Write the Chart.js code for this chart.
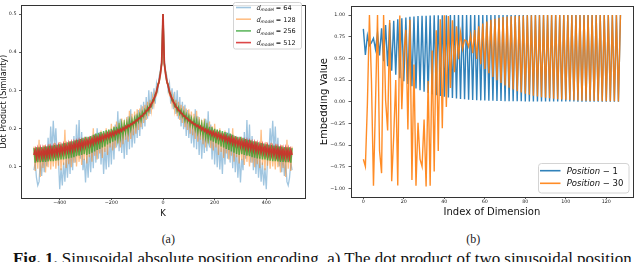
<!DOCTYPE html>
<html>
<head>
<meta charset="utf-8">
<script src="https://cdn.jsdelivr.net/npm/chart.js@4.4.0/dist/chart.umd.min.js"></script>
<style>
  html, body { margin: 0; padding: 0; background: #fff; }
  body { width: 640px; height: 262px; position: relative; overflow: hidden; }
  canvas { position: absolute; top: 0; }
  #chartA { left: 0; }
  #chartB { left: 320px; }
  .sub { position: absolute; font-family: "Liberation Serif", serif; font-size: 12px; line-height: 1; color: #222; top: 233px; }
  #caption { position: absolute; left: 13px; top: 252px; white-space: nowrap; font-family: "Liberation Serif", serif; font-size: 12px; line-height: 1; color: #111; }
</style>
</head>
<body>
<canvas id="chartA" width="320" height="225"></canvas>
<canvas id="chartB" width="320" height="225"></canvas>
<div class="sub" id="subA">(a)</div>
<div class="sub" id="subB">(b)</div>
<div id="caption"><span id="capText"><b>Fig. 1.</b> Sinusoidal absolute position encoding. a) The dot product of two sinusoidal position</span></div>
<script>
// ---- data (a): dot product vs distance K, right half (K >= 0), the plot is symmetric
const kHalf = [0,5,10,15,20,25,30,35,40,45,
  50,55,60,65,70,75,80,85,90,95,
  100,105,110,115,120,125,130,135,140,145,
  150,155,160,165,170,175,180,185,190,195,
  200,205,210,215,220,225,230,235,240,245,
  250,255,260,265,270,275,280,285,290,295,
  300,305,310,315,320,325,330,335,340,345,
  350,355,360,365,370,375,380,385,390,395,
  400,405,410,415,420,425,430,435,440,445,
  450,455,460,465,470,475,480,485,490,495,
  500];

const dot64 = [.500,.380,.352,.336,.300,.318,.265,.305,.250,.296,
  .238,.300,.225,.282,.205,.270,.198,.262,.180,.248,
  .175,.236,.160,.210,.150,.250,.145,.232,.130,.205,
  .120,.188,.135,.225,.140,.245,.150,.210,.118,.190,
  .105,.176,.098,.170,.092,.150,.080,.168,.105,.190,
  .120,.200,.110,.185,.095,.165,.085,.150,.070,.130,
  .058,.120,.090,.190,.120,.222,.130,.210,.110,.180,
  .090,.160,.080,.145,.070,.125,.060,.110,.050,.095,
  .040,.120,.130,.200,.150,.220,.140,.205,.120,.175,
  .100,.150,.085,.130,.075,.115,.060,.050,.070,.110,
  .090];

const dot128 = [.500,.368,.347,.318,.318,.288,.295,.262,.283,.246,
  .275,.232,.270,.222,.262,.214,.258,.203,.252,.196,
  .250,.186,.244,.182,.238,.172,.246,.165,.230,.170,
  .222,.158,.226,.150,.214,.160,.218,.148,.206,.142,
  .212,.150,.196,.130,.200,.138,.188,.122,.194,.134,
  .180,.118,.186,.128,.200,.112,.178,.124,.170,.108,
  .176,.116,.162,.104,.172,.112,.160,.100,.170,.110,
  .156,.098,.166,.106,.152,.096,.196,.104,.150,.090,
  .164,.102,.148,.094,.162,.100,.146,.092,.158,.098,
  .150,.084,.156,.096,.148,.072,.170,.094,.150,.088,
  .152];

const dot256 = [.500,.370,.345,.322,.314,.293,.289,.273,.274,.258,
  .262,.246,.255,.238,.247,.232,.242,.222,.236,.219,
  .232,.210,.226,.206,.222,.199,.220,.192,.214,.190,
  .212,.183,.209,.178,.206,.172,.204,.168,.203,.165,
  .199,.161,.197,.158,.195,.152,.193,.150,.190,.146,
  .188,.143,.186,.139,.183,.136,.180,.133,.178,.130,
  .178,.132,.175,.130,.172,.128,.170,.127,.168,.124,
  .166,.123,.165,.121,.163,.120,.161,.118,.160,.118,
  .158,.116,.157,.115,.156,.114,.155,.114,.154,.113,
  .153,.112,.152,.112,.151,.111,.150,.111,.150,.110,
  .148];

const dot512 = [.500,.372,.343,.324,.311,.297,.285,.278,.269,.265,
  .256,.254,.247,.246,.240,.238,.232,.232,.226,.226,
  .220,.221,.215,.216,.210,.211,.205,.208,.201,.205,
  .196,.201,.193,.198,.189,.195,.186,.192,.182,.190,
  .180,.188,.176,.186,.174,.183,.171,.181,.168,.179,
  .165,.176,.163,.175,.160,.173,.158,.171,.156,.169,
  .153,.168,.151,.166,.149,.165,.147,.163,.146,.161,
  .143,.160,.141,.158,.140,.156,.137,.155,.136,.153,
  .134,.152,.133,.150,.131,.149,.130,.148,.128,.147,
  .127,.146,.126,.145,.125,.145,.124,.144,.123,.143,
  .130];

const dModels = ['64', '128', '256', '512'];
const xTicksA = [-400, -200, 0, 200, 400];
const yTicksA = [0.1, 0.2, 0.3, 0.4, 0.5];

// ---- data (b): embedding values over the 128 dimensions
const pos1 = [.841,.540,.762,.648,.682,.732,.605,.796,.533,.846,.468,.884,.409,.912,.357,.934,
  .311,.950,.270,.963,.235,.972,.204,.979,.177,.984,.153,.988,.133,.991,.115,.993,
  .100,.995,.087,.996,.075,.997,.065,.998,.056,.998,.049,.999,.042,.999,.037,.999,
  .032,.999,.027,1,.024,1,.021,1,.018,1,.015,1,.013,1,.012,1,
  .010,1,.009,1,.007,1,.006,1,.006,1,.005,1,.004,1,.004,1,
  .003,1,.003,1,.002,1,.002,1,.002,1,.002,1,.001,1,.001,1,
  .001,1,.001,1,.001,1,.001,1,.001,1,0,1,0,1,0,1,
  0,1,0,1,0,1,0,1,0,1,0,1,0,1,0,1];

const pos30 = [-.664,-.748,-.020,1,.242,-.970,-.018,1,-.565,-.825,1,.015,-.331,.944,-.919,-.395,
  .251,-.968,.996,-.087,.560,.829,-.322,.947,-.903,.430,-.970,-.244,-.664,-.748,-.206,-.978,
  .239,-.971,.590,-.807,.823,-.568,.951,-.307,.998,-.060,.988,.158,.940,.340,.871,.491,
  .794,.608,.713,.701,.635,.773,.561,.828,.493,.870,.432,.902,.377,.926,.329,.944,
  .286,.958,.249,.969,.216,.976,.187,.982,.162,.987,.141,.990,.122,.993,.106,.994,
  .092,.996,.079,.997,.069,.998,.060,.998,.052,.999,.045,.999,.039,.999,.033,.999,
  .029,1,.025,1,.022,1,.019,1,.016,1,.014,1,.012,1,.011,1,
  .009,1,.008,1,.007,1,.006,1,.005,1,.004,1,.004,1,.003,1];

const positions = ['1', '30'];
const xTicksB = [0, 20, 40, 60, 80, 100, 120];
const yTicksB = [-1, -0.75, -0.5, -0.25, 0, 0.25, 0.5, 0.75, 1];

// ---- helpers
const FONT = '"DejaVu Sans", sans-serif';
const minus = s => String(s).replace('-', '\u2212');

// full K axis from the right half (distance -K gives the same product)
const kFull = kHalf.slice(1).reverse().map(k => -k).concat(kHalf);
const mirror = half => half.slice(1).reverse().concat(half);
const toXY = (xs, ys) => ys.map((y, i) => ({ x: xs[i], y: y }));

const frame = {
  id: 'frame',
  afterDatasetsDraw(chart) {
    const { left, top, right, bottom } = chart.chartArea;
    const ctx = chart.ctx;
    ctx.save();
    ctx.strokeStyle = '#333';
    ctx.lineWidth = 1;
    const l = Math.round(left) + 0.5, t = Math.round(top) + 0.5;
    ctx.strokeRect(l, t, Math.round(right) - Math.round(left), Math.round(bottom) - Math.round(top));
    ctx.restore();
  }
};

function box(ctx, x, y, w, h, r) {
  ctx.beginPath();
  ctx.roundRect(x, y, w, h, r);
  ctx.fillStyle = 'rgba(255,255,255,0.85)';
  ctx.fill();
  ctx.strokeStyle = '#d4d4d4';
  ctx.lineWidth = 1;
  ctx.stroke();
}

function scaleX(ticks, min, max, fmt, titleText, titleSize, titleBottom, height) {
  return {
    type: 'linear', min: min, max: max,
    afterBuildTicks: s => { s.ticks = ticks.map(v => ({ value: v })); },
    afterFit: s => { s.height = height; },
    ticks: { font: { family: FONT, size: 4.8 }, color: '#222', padding: 0, maxRotation: 0, autoSkip: false, callback: fmt },
    grid: { drawOnChartArea: false, tickLength: 2, color: '#333', lineWidth: 0.8 },
    border: { display: false },
    title: { display: true, text: titleText, color: '#111', font: { family: FONT, size: titleSize, lineHeight: 1 }, padding: { top: 0, bottom: titleBottom } }
  };
}

function scaleY(ticks, min, max, fmt, titleText, titleSize, width, pad) {
  return {
    type: 'linear', min: min, max: max,
    afterBuildTicks: s => { s.ticks = ticks.map(v => ({ value: v })); },
    afterFit: s => { s.width = width; },
    ticks: { font: { family: FONT, size: 4.8 }, color: '#222', padding: pad, autoSkip: false, callback: fmt },
    grid: { drawOnChartArea: false, tickLength: 2, color: '#333', lineWidth: 0.8 },
    border: { display: false },
    title: { display: true, text: titleText, color: '#111', font: { family: FONT, size: titleSize, lineHeight: 0.9 }, padding: { top: 0, bottom: 0 } }
  };
}

// ---- chart (a)
const styleA = [
  { color: 'rgba(31,119,180,0.42)', width: 1.3 },
  { color: 'rgba(255,127,14,0.5)', width: 1.3 },
  { color: 'rgba(44,160,44,0.75)', width: 1.5 },
  { color: 'rgba(214,39,40,0.85)', width: 1.8 }
];
const seriesA = [dot64, dot128, dot256, dot512];

const legendA = {
  id: 'legendA',
  afterDraw(chart) {
    const ctx = chart.ctx;
    ctx.save();
    box(ctx, 233.5, 2.5, 68, 46.5, 2);
    ctx.textBaseline = 'alphabetic';
    dModels.forEach((d, i) => {
      const y = 7.5 + i * 11.7;
      ctx.strokeStyle = styleA[i].color;
      ctx.lineWidth = 1.6;
      ctx.beginPath();
      ctx.moveTo(236, y);
      ctx.lineTo(251, y);
      ctx.stroke();
      ctx.fillStyle = '#111';
      ctx.font = 'italic 6.5px ' + FONT;
      ctx.fillText('d', 256.5, y + 2.3);
      ctx.font = 'italic 4.3px ' + FONT;
      ctx.fillText('model', 260.6, y + 3.6);
      ctx.font = '6.5px ' + FONT;
      ctx.fillText('= ' + d, 275.8, y + 2.3);
    });
    ctx.restore();
  }
};

new Chart(document.getElementById('chartA'), {
  type: 'line',
  data: {
    datasets: seriesA.map((vals, i) => ({
      label: 'd_model = ' + dModels[i],
      data: toXY(kFull, mirror(vals)),
      borderColor: styleA[i].color,
      borderWidth: styleA[i].width,
      pointRadius: 0,
      tension: 0,
      fill: false,
      order: 3 - i
    }))
  },
  options: {
    responsive: false,
    animation: false,
    events: [],
    layout: { padding: { left: 0, top: 1, right: 15, bottom: 0 } },
    plugins: { legend: { display: false }, tooltip: { enabled: false } },
    scales: {
      x: scaleX(xTicksA, -550, 550, v => minus(v), 'K', 8.5, 6.5, 27),
      y: scaleY(yTicksA, 0.017, 0.523, v => v.toFixed(1), 'Dot Product (Similarity)', 8, 21, 2.5)
    }
  },
  plugins: [frame, legendA]
});

// ---- chart (b)
const styleB = [
  { color: 'rgba(31,119,180,0.92)', width: 1.4 },
  { color: 'rgba(255,127,14,0.9)', width: 1.4 }
];
const seriesB = [pos1, pos30];

const legendB = {
  id: 'legendB',
  afterDraw(chart) {
    const ctx = chart.ctx;
    ctx.save();
    box(ctx, 218.5, 163.5, 90.5, 29.5, 3);
    ctx.textBaseline = 'alphabetic';
    positions.forEach((p, i) => {
      const y = 170.7 + i * 12.6;
      ctx.strokeStyle = styleB[i].color;
      ctx.lineWidth = 1.6;
      ctx.beginPath();
      ctx.moveTo(220, y);
      ctx.lineTo(240.5, y);
      ctx.stroke();
      ctx.fillStyle = '#111';
      ctx.font = 'italic 8.5px ' + FONT;
      ctx.fillText('Position', 246.7, y + 3);
      const w = ctx.measureText('Position').width;
      ctx.font = '8.5px ' + FONT;
      ctx.fillText(' \u2212 ' + p, 246.7 + w, y + 3);
    });
    ctx.restore();
  }
};

new Chart(document.getElementById('chartB'), {
  type: 'line',
  data: {
    datasets: seriesB.map((vals, i) => ({
      label: 'Position - ' + positions[i],
      data: vals.map((v, d) => ({ x: d, y: v })),
      borderColor: styleB[i].color,
      borderWidth: styleB[i].width,
      pointRadius: 0,
      tension: 0,
      fill: false,
      order: 1 - i
    }))
  },
  options: {
    responsive: false,
    animation: false,
    events: [],
    layout: { padding: { left: 0, top: 1, right: 6.7, bottom: 0 } },
    plugins: { legend: { display: false }, tooltip: { enabled: false } },
    scales: {
      x: scaleX(xTicksB, -6.35, 133.35, v => String(v), 'Index of Dimension', 10, 8, 28),
      y: scaleY(yTicksB, -1.1, 1.1, v => minus(v.toFixed(2)), 'Embedding Value', 10, 30.5, 3.5)
    }
  },
  plugins: [frame, legendB]
});

// ---- captions: centre sub-labels, fit caption line to its width
function centre(id, cx) {
  const el = document.getElementById(id);
  el.style.left = (cx - el.getBoundingClientRect().width / 2) + 'px';
}
centre('subA', 168.3);
centre('subB', 473.3);

const cap = document.getElementById('caption');
const capText = document.getElementById('capText');
let fs = 12 * 619 / capText.getBoundingClientRect().width;
cap.style.fontSize = fs + 'px';
cap.style.top = (254.3 - 0.1755 * fs) + 'px';
</script>
</body>
</html>
